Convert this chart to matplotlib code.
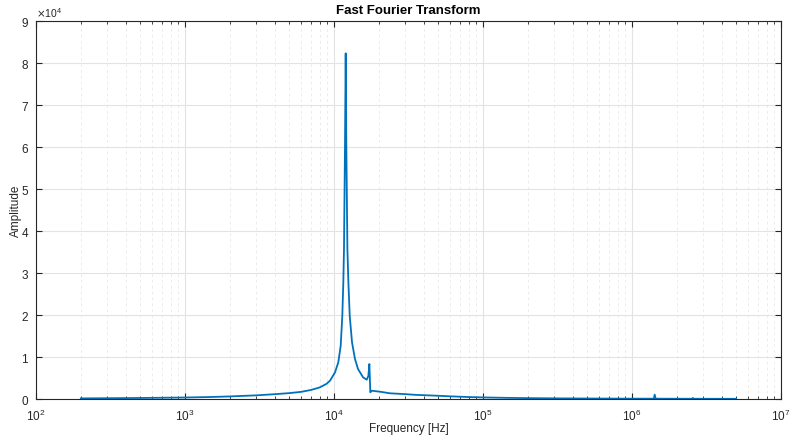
import matplotlib
matplotlib.use("Agg")
import matplotlib.pyplot as plt
from matplotlib.ticker import ScalarFormatter, LogLocator, MultipleLocator
import numpy as np

plt.rcParams['font.family'] = ['Liberation Sans', 'DejaVu Sans']

# Frequency (Hz) and amplitude values
freq = [200, 300, 500, 700, 1000, 1500, 2000, 3000, 4000, 5000, 6000, 7000,
        8000, 8900, 9400, 10160, 10690, 11090, 11370, 11550, 11670, 11850,
        11980, 12100, 12300, 12490, 12750, 13210, 13830, 14490, 15670, 16580,
        17010, 17270, 17400, 17530, 17910, 20360, 23760, 29200, 35000, 48900,
        60000, 81800, 100000, 137000, 200000, 300000, 500000, 700000,
        1000000, 1400000, 1420000, 1440000, 2000000, 2540000, 2560000,
        2580000, 3000000, 4000000, 5000000]
amp = [150, 190, 250, 300, 360, 480, 620, 870, 1150, 1400, 1700, 2150,
       2750, 3600, 4360, 6350, 8740, 12700, 19800, 27800, 35700, 60000,
       82300, 60000, 35700, 27800, 19800, 13500, 9520, 7140, 5160, 4600,
       5500, 8330, 5000, 1600, 1980, 1740, 1360, 1190, 1000, 790,
       640, 460, 380, 290, 210, 160, 120, 100,
       85, 80, 1050, 80, 65, 60, 250,
       60, 55, 50, 45]

fig = plt.figure(figsize=(7.89, 4.39), dpi=100)
ax = fig.add_axes([0.0456, 0.0888, 0.9443, 0.8611])

ax.plot(freq, amp, color='#0072BD', lw=1.3)
ax.set_xscale('log')
ax.set_xlim(1e2, 1e7)
ax.set_ylim(0, 9e4)

ax.xaxis.set_major_locator(LogLocator(base=10, numticks=10))
ax.xaxis.set_minor_locator(LogLocator(base=10, subs=np.arange(2, 10), numticks=20))
ax.yaxis.set_major_locator(MultipleLocator(1e4))
fmt = ScalarFormatter(useMathText=True)
fmt.set_powerlimits((0, 0))
ax.yaxis.set_major_formatter(fmt)

axcol = '#262626'
for s in ax.spines.values():
    s.set_color(axcol)
    s.set_linewidth(0.8)
ax.tick_params(which='both', direction='in', top=True, right=True, colors=axcol,
               labelsize=8.5, labelcolor=axcol)
ax.tick_params(which='major', length=4)
ax.tick_params(which='minor', length=2.5)
ax.tick_params(axis='x', which='major', pad=6)
ax.tick_params(axis='y', which='major', pad=5)
ax.yaxis.get_offset_text().set_fontsize(7.5)
ax.yaxis.get_offset_text().set_color(axcol)

ax.grid(which='major', color='#e3e3e3', lw=0.8, linestyle='-')
ax.grid(which='minor', axis='x', color='#ececec', lw=0.7, linestyle=(0, (3, 3)))
ax.set_axisbelow(True)

ax.set_title('Fast Fourier Transform', fontsize=9.5, fontweight='bold', color='black', pad=6)
ax.set_xlabel('Frequency [Hz]', fontsize=8.5, color=axcol)
ax.set_ylabel('Amplitude', fontsize=8.5, color=axcol)
ax.xaxis.set_label_coords(0.5, -0.062)
ax.yaxis.set_label_coords(-0.019, 0.5)

fig.savefig('out.png', dpi=100)
